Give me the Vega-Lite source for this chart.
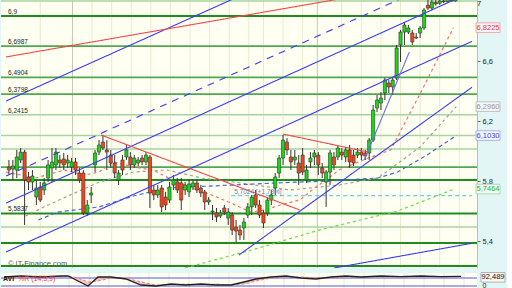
{
"$schema":"https://vega.github.io/schema/vega-lite/v6.json",
"padding":0,
"background":"#E3F6F6",
"config":{"view":{"stroke":null,"fill":"#FFFFF2"},"font":"Liberation Sans"},
"spacing":2,
"datasets":{
"candles":[
{"i":0,"o":5.893,"c":5.873,"h":5.94,"l":5.84},{"i":1,"o":5.88,"c":5.9,"h":5.94,"l":5.807},{"i":2,"o":5.873,"c":5.96,"h":6.007,"l":5.82},{"i":3,"o":5.94,"c":5.993,"h":6.02,"l":5.92},{"i":4,"o":5.993,"c":5.807,"h":6.007,"l":5.507},{"i":5,"o":5.827,"c":5.793,"h":5.86,"l":5.74},{"i":6,"o":5.793,"c":5.833,"h":5.873,"l":5.74},{"i":7,"o":5.693,"c":5.753,"h":5.807,"l":5.64},{"i":8,"o":5.76,"c":5.673,"h":5.793,"l":5.66},{"i":9,"o":5.74,"c":5.787,"h":5.82,"l":5.707},
{"i":10,"o":5.82,"c":5.907,"h":5.94,"l":5.793},{"i":11,"o":5.887,"c":5.927,"h":6.02,"l":5.793},{"i":12,"o":5.907,"c":5.993,"h":6.02,"l":5.873},{"i":13,"o":5.94,"c":5.92,"h":5.973,"l":5.887},{"i":14,"o":5.947,"c":5.907,"h":5.987,"l":5.873},{"i":15,"o":5.92,"c":5.94,"h":5.973,"l":5.887},{"i":16,"o":5.893,"c":5.927,"h":5.953,"l":5.86},{"i":17,"o":5.927,"c":5.873,"h":5.953,"l":5.84},{"i":18,"o":5.853,"c":5.807,"h":5.887,"l":5.787},{"i":19,"o":5.853,"c":5.587,"h":5.873,"l":5.573},
{"i":20,"o":5.587,"c":5.64,"h":5.673,"l":5.567},{"i":21,"o":5.707,"c":5.72,"h":5.76,"l":5.653},{"i":22,"o":5.907,"c":5.987,"h":6.007,"l":5.86},{"i":23,"o":5.993,"c":6.04,"h":6.073,"l":5.973},{"i":24,"o":6.06,"c":6.02,"h":6.107,"l":6.007},{"i":25,"o":6.007,"c":5.993,"h":6.073,"l":5.873},{"i":26,"o":5.973,"c":5.92,"h":6.007,"l":5.887},{"i":27,"o":5.92,"c":5.853,"h":5.973,"l":5.82},{"i":28,"o":5.807,"c":5.853,"h":5.873,"l":5.773},{"i":29,"o":5.94,"c":5.873,"h":5.973,"l":5.84},
{"i":30,"o":5.96,"c":6.007,"h":6.04,"l":5.94},{"i":31,"o":5.96,"c":5.907,"h":5.993,"l":5.873},{"i":32,"o":5.907,"c":5.953,"h":5.973,"l":5.887},{"i":33,"o":5.92,"c":5.94,"h":5.96,"l":5.9},{"i":34,"o":5.953,"c":5.927,"h":5.973,"l":5.907},{"i":35,"o":5.927,"c":5.973,"h":5.993,"l":5.907},{"i":36,"o":5.96,"c":5.72,"h":5.973,"l":5.62},{"i":37,"o":5.74,"c":5.707,"h":5.773,"l":5.673},{"i":38,"o":5.707,"c":5.74,"h":5.773,"l":5.687},{"i":39,"o":5.753,"c":5.627,"h":5.773,"l":5.593},
{"i":40,"o":5.693,"c":5.64,"h":5.727,"l":5.607},{"i":41,"o":5.673,"c":5.76,"h":5.793,"l":5.653},{"i":42,"o":5.773,"c":5.807,"h":5.84,"l":5.74},{"i":43,"o":5.793,"c":5.74,"h":5.82,"l":5.72},{"i":44,"o":5.787,"c":5.673,"h":5.82,"l":5.607},{"i":45,"o":5.74,"c":5.773,"h":5.793,"l":5.707},{"i":46,"o":5.727,"c":5.78,"h":5.807,"l":5.693},{"i":47,"o":5.76,"c":5.787,"h":5.807,"l":5.74},{"i":48,"o":5.787,"c":5.74,"h":5.807,"l":5.72},{"i":49,"o":5.753,"c":5.72,"h":5.773,"l":5.693},
{"i":50,"o":5.727,"c":5.66,"h":5.74,"l":5.607},{"i":51,"o":5.66,"c":5.673,"h":5.693,"l":5.64},{"i":52,"o":5.593,"c":5.6,"h":5.64,"l":5.54},{"i":53,"o":5.587,"c":5.56,"h":5.62,"l":5.527},{"i":54,"o":5.567,"c":5.587,"h":5.607,"l":5.553},{"i":55,"o":5.62,"c":5.593,"h":5.64,"l":5.573},{"i":56,"o":5.553,"c":5.593,"h":5.62,"l":5.507},{"i":57,"o":5.573,"c":5.473,"h":5.593,"l":5.44},{"i":58,"o":5.493,"c":5.467,"h":5.54,"l":5.393},{"i":59,"o":5.473,"c":5.44,"h":5.507,"l":5.407},
{"i":60,"o":5.487,"c":5.527,"h":5.553,"l":5.407},{"i":61,"o":5.573,"c":5.627,"h":5.653,"l":5.553},{"i":62,"o":5.627,"c":5.693,"h":5.707,"l":5.573},{"i":63,"o":5.707,"c":5.64,"h":5.74,"l":5.62},{"i":64,"o":5.64,"c":5.573,"h":5.673,"l":5.553},{"i":65,"o":5.587,"c":5.52,"h":5.607,"l":5.487},{"i":66,"o":5.587,"c":5.673,"h":5.693,"l":5.567},{"i":67,"o":5.673,"c":5.707,"h":5.74,"l":5.64},{"i":68,"o":5.753,"c":5.827,"h":5.853,"l":5.707},{"i":69,"o":5.853,"c":5.953,"h":5.973,"l":5.82},
{"i":70,"o":5.953,"c":6.073,"h":6.107,"l":5.907},{"i":71,"o":6.06,"c":6.007,"h":6.087,"l":5.973},{"i":72,"o":5.96,"c":5.927,"h":6.007,"l":5.873},{"i":73,"o":5.94,"c":5.96,"h":6.007,"l":5.907},{"i":74,"o":5.92,"c":5.853,"h":5.973,"l":5.773},{"i":75,"o":5.973,"c":5.86,"h":6.02,"l":5.84},{"i":76,"o":5.807,"c":5.873,"h":5.907,"l":5.787},{"i":77,"o":5.927,"c":5.953,"h":5.993,"l":5.887},{"i":78,"o":5.96,"c":5.987,"h":6.007,"l":5.907},{"i":79,"o":5.973,"c":5.907,"h":5.993,"l":5.84},
{"i":80,"o":5.887,"c":5.853,"h":5.92,"l":5.82},{"i":81,"o":5.793,"c":5.86,"h":5.873,"l":5.627},{"i":82,"o":5.86,"c":5.987,"h":6.007,"l":5.773},{"i":83,"o":5.96,"c":5.907,"h":5.993,"l":5.873},{"i":84,"o":5.96,"c":6.02,"h":6.04,"l":5.94},{"i":85,"o":5.993,"c":5.973,"h":6.02,"l":5.94},{"i":86,"o":5.96,"c":6.007,"h":6.027,"l":5.927},{"i":87,"o":6.007,"c":5.927,"h":6.04,"l":5.887},{"i":88,"o":5.973,"c":5.92,"h":6.007,"l":5.9},{"i":89,"o":5.973,"c":5.993,"h":6.02,"l":5.953},
{"i":90,"o":5.993,"c":5.973,"h":6.02,"l":5.94},{"i":91,"o":5.987,"c":5.967,"h":6.007,"l":5.94},{"i":92,"o":5.987,"c":6.073,"h":6.087,"l":5.94},{"i":93,"o":6.073,"c":6.273,"h":6.307,"l":6.06},{"i":94,"o":6.287,"c":6.34,"h":6.373,"l":6.26},{"i":95,"o":6.32,"c":6.353,"h":6.393,"l":6.273},{"i":96,"o":6.387,"c":6.473,"h":6.487,"l":6.34},{"i":97,"o":6.453,"c":6.427,"h":6.473,"l":6.387},{"i":98,"o":6.427,"c":6.473,"h":6.487,"l":6.373},{"i":99,"o":6.487,"c":6.687,"h":6.707,"l":6.473},
{"i":100,"o":6.707,"c":6.793,"h":6.807,"l":6.593},{"i":101,"o":6.793,"c":6.84,"h":6.86,"l":6.707},{"i":102,"o":6.793,"c":6.82,"h":6.84,"l":6.78},{"i":103,"o":6.787,"c":6.727,"h":6.807,"l":6.707},{"i":104,"o":6.76,"c":6.753,"h":6.787,"l":6.747},{"i":105,"o":6.787,"c":6.82,"h":6.833,"l":6.753},{"i":106,"o":6.82,"c":6.94,"h":6.953,"l":6.807},{"i":107,"o":6.973,"c":6.953,"h":7.007,"l":6.94},{"i":108,"o":6.953,"c":6.993,"h":7.04,"l":6.94},{"i":109,"o":6.99,"c":6.98,"h":7.03,"l":6.97},
{"i":110,"o":6.985,"c":7.0,"h":7.03,"l":6.975},{"i":111,"o":7.0,"c":6.995,"h":7.04,"l":6.985},{"i":112,"o":6.995,"c":7.01,"h":7.05,"l":6.99},{"i":113,"o":7.01,"c":7.0,"h":7.04,"l":6.995},{"i":114,"o":7.0,"c":7.02,"h":7.05,"l":6.995}
],
"levels":[
{"v":7.0,"k":"c"},{"v":6.9,"k":"a"},{"v":6.6987,"k":"b"},{"v":6.4904,"k":"b"},{"v":6.3798,"k":"b"},{"v":6.2415,"k":"c"},{"v":6.103,"k":"c"},{"v":6.013,"k":"c"},{"v":5.893,"k":"b"},{"v":5.807,"k":"a"},{"v":5.5837,"k":"a"},{"v":5.493,"k":"c"},{"v":5.387,"k":"a"},{"v":5.233,"k":"a"}
],
"grid":[
{"i":8,"k":"n"},{"i":16.25,"k":"d"},{"i":21.25,"k":"n"},{"i":26.25,"k":"n"},{"i":31.25,"k":"n"},{"i":36.25,"k":"n"},{"i":41.25,"k":"n"},{"i":46.25,"k":"n"},{"i":51.25,"k":"n"},{"i":56.25,"k":"n"},{"i":61.25,"k":"n"},{"i":65,"k":"n"},{"i":70,"k":"n"},{"i":75,"k":"n"},{"i":78.75,"k":"d"},{"i":85,"k":"n"},{"i":90,"k":"n"},{"i":95,"k":"n"},{"i":100,"k":"n"},{"i":105,"k":"n"},{"i":110,"k":"n"},{"i":115,"k":"n"}
],
"segs":[
{"g":"L1","i":-0.75,"v":6.333},{"g":"L1","i":60,"v":7.046},
{"g":"Ldash","i":-0.75,"v":5.833},{"g":"Ldash","i":105,"v":7.073},
{"g":"L2","i":-0.75,"v":5.653},{"g":"L2","i":118.25,"v":7.062},
{"g":"L3","i":-0.75,"v":5.327},{"g":"L3","i":118.25,"v":6.731},
{"g":"L4","i":58.75,"v":5.307},{"g":"L4","i":118.25,"v":6.425},
{"g":"L6","i":83,"v":5.22},{"g":"L6","i":118.25,"v":5.385},
{"g":"L7","i":90.75,"v":5.94},{"g":"L7","i":102.25,"v":6.66},
{"g":"R1","i":-0.75,"v":6.627},{"g":"R1","i":90,"v":7.039},
{"g":"R2","i":23.5,"v":6.107},{"g":"R2","i":74.25,"v":5.607},
{"g":"R3","i":70,"v":6.113},{"g":"R3","i":91.75,"v":5.993},
{"g":"maR","i":-0.75,"v":5.86},{"g":"maR","i":6.75,"v":5.82},{"g":"maR","i":14.25,"v":5.873},{"g":"maR","i":19.25,"v":5.84},{"g":"maR","i":23,"v":5.86},{"g":"maR","i":26.75,"v":5.927},{"g":"maR","i":31.75,"v":5.893},{"g":"maR","i":36.75,"v":5.873},{"g":"maR","i":41.75,"v":5.807},{"g":"maR","i":46.75,"v":5.753},{"g":"maR","i":51.75,"v":5.707},{"g":"maR","i":56.75,"v":5.653},{"g":"maR","i":61.75,"v":5.593},{"g":"maR","i":65.5,"v":5.607},{"g":"maR","i":69.25,"v":5.64},{"g":"maR","i":74.25,"v":5.673},{"g":"maR","i":78,"v":5.753},{"g":"maR","i":81,"v":5.807},{"g":"maR","i":84.25,"v":5.873},{"g":"maR","i":91.75,"v":5.953},{"g":"maR","i":97.5,"v":6.007},{"g":"maR","i":105.5,"v":6.407},{"g":"maR","i":113.5,"v":6.8225},
{"g":"maG","i":4.25,"v":5.567},{"g":"maG","i":10,"v":5.64},{"g":"maG","i":22.5,"v":5.787},{"g":"maG","i":31.75,"v":5.86},{"g":"maG","i":40.5,"v":5.873},{"g":"maG","i":49.25,"v":5.82},{"g":"maG","i":59.25,"v":5.787},{"g":"maG","i":71.75,"v":5.74},{"g":"maG","i":84.25,"v":5.773},{"g":"maG","i":94.25,"v":5.82},{"g":"maG","i":105,"v":6.027},{"g":"maG","i":114.25,"v":6.296},
{"g":"maB","i":7.5,"v":5.54},{"g":"maB","i":12.5,"v":5.593},{"g":"maB","i":23,"v":5.627},{"g":"maB","i":31.75,"v":5.7},{"g":"maB","i":40.5,"v":5.753},{"g":"maB","i":56.75,"v":5.773},{"g":"maB","i":68.5,"v":5.787},{"g":"maB","i":81.75,"v":5.8},{"g":"maB","i":94.25,"v":5.82},{"g":"maB","i":99.25,"v":5.86},{"g":"maB","i":106.75,"v":5.973},{"g":"maB","i":114.25,"v":6.103},
{"g":"maGr","i":45,"v":5.22},{"g":"maGr","i":63,"v":5.347},{"g":"maGr","i":79.25,"v":5.473},{"g":"maGr","i":99.25,"v":5.6},{"g":"maGr","i":113.75,"v":5.7464},
{"g":"cy","i":56.75,"v":5.7024},{"g":"cy","i":118.25,"v":5.7024}
],
"labelsL":[
{"v":6.9,"t":"6,9"},{"v":6.6987,"t":"6,6987"},{"v":6.4904,"t":"6,4904"},{"v":6.3798,"t":"6,3798"},{"v":6.2415,"t":"6,2415"},{"v":5.5837,"t":"5,5837"}
],
"boxes":[
{"v":6.8225,"t":"6,8225","k":"r"},{"v":6.296,"t":"6,2960","k":"g"},{"v":6.103,"t":"6,1030","k":"b"},{"v":5.7464,"t":"5,7464","k":"n"}
],
"ind":[
{"i":0,"k":87.5,"p":80},{"i":4.25,"k":95,"p":87.5},{"i":9.25,"k":87.5,"p":95},{"i":14.25,"k":95,"p":87.5},{"i":16,"k":95,"p":95},{"i":18.5,"k":57.5,"p":80},{"i":21,"k":20,"p":50},{"i":23.5,"k":87.5,"p":57.5},{"i":26.75,"k":87.5,"p":80},{"i":30.5,"k":72.5,"p":80},{"i":34.25,"k":27.5,"p":50},{"i":38,"k":20,"p":27.5},{"i":41.75,"k":35,"p":27.5},{"i":45.5,"k":27.5,"p":35},{"i":49.25,"k":35,"p":27.5},{"i":53,"k":27.5,"p":35},{"i":56.75,"k":27.5,"p":27.5},{"i":60,"k":50,"p":35},{"i":63,"k":72.5,"p":57.5},{"i":66.75,"k":87.5,"p":80},{"i":70.5,"k":95,"p":87.5},{"i":74.25,"k":80,"p":87.5},{"i":78,"k":72.5,"p":80},{"i":81.75,"k":87.5,"p":80},{"i":85.5,"k":95,"p":87.5},{"i":89.25,"k":87.5,"p":87.5},{"i":94.25,"k":95,"p":87.5},{"i":99.25,"k":91,"p":87.5},{"i":104.25,"k":95,"p":91},{"i":109.25,"k":91,"p":91},{"i":114.25,"k":92.489,"p":91}
]
},
"resolve":{"scale":{"x":"independent","y":"independent"}},
"vconcat":[
{
"width":476,"height":268,
"resolve":{"scale":{"color":"independent","strokeWidth":"independent","strokeDash":"independent","stroke":"independent","fill":"independent"}},
"layer":[
{"data":{"name":"grid"},"mark":{"type":"rule","clip":true,"strokeWidth":1},
 "encoding":{"x":{"field":"i","type":"quantitative","scale":{"domain":[-0.75,118.25],"nice":false,"zero":false},"axis":null},
 "color":{"field":"k","type":"nominal","scale":{"domain":["n","d"],"range":["#ECE8D2","#C9C5B3"]},"legend":null}}},
{"data":{"name":"levels"},"mark":{"type":"rule","clip":true},
 "encoding":{"y":{"field":"v","type":"quantitative","scale":{"domain":[5.22,7.0067],"nice":false,"zero":false},
   "axis":{"orient":"right","title":null,"values":[5.4,5.6,5.8,6,6.2,6.4,6.6,7],"labelExpr":"datum.value > 6.9 ? '' : replace(format(datum.value,'.1~f'),'.',',')","grid":false,"domain":true,"domainColor":"#BBBBBB","ticks":true,"tickSize":3,"tickColor":"#666666","labelPadding":2,"labelFontSize":7.5,"labelColor":"#222222","labelOverlap":false}},
 "color":{"field":"k","type":"nominal","scale":{"domain":["a","b","c"],"range":["#1E8C1E","#4FA84F","#A6D69E"]},"legend":null},
 "strokeWidth":{"field":"k","type":"ordinal","scale":{"domain":["a","b","c"],"range":[2,1.5,2.2]},"legend":null}}},
{"data":{"name":"segs"},"transform":[{"filter":"indexof(['maR','maG','maB','maGr','cy'], datum.g) >= 0"}],"mark":{"type":"line","clip":true},
 "encoding":{"x":{"field":"i","type":"quantitative"},"y":{"field":"v","type":"quantitative"},
 "color":{"field":"g","type":"nominal","scale":{"domain":["maR","maG","maB","maGr","cy"],"range":["#F07070","#A0A0A0","#4466DD","#66DD44","#66CCFF"]},"legend":null},
 "strokeDash":{"field":"g","type":"nominal","scale":{"domain":["maR","maG","maB","maGr","cy"],"range":[[3,3],[3,3],[4,3],[3,3],[4,3]]},"legend":null},
 "strokeWidth":{"field":"g","type":"ordinal","scale":{"domain":["maR","maG","maB","maGr","cy"],"range":[1.2,1.2,1.2,1.6,1.2]},"legend":null}}},
{"data":{"name":"candles"},"mark":{"type":"rule","color":"#333333","strokeWidth":1,"clip":true},
 "encoding":{"x":{"field":"i","type":"quantitative"},"y":{"field":"l","type":"quantitative"},"y2":{"field":"h"}}},
{"data":{"name":"candles"},"mark":{"type":"bar","width":3.2,"stroke":"#333333","strokeWidth":0.6,"clip":true},
 "encoding":{"x":{"field":"i","type":"quantitative"},"y":{"field":"o","type":"quantitative"},"y2":{"field":"c"},
 "fill":{"condition":{"test":"datum.c >= datum.o","value":"#18D818"},"value":"#F2461C"}}},
{"data":{"name":"segs"},"transform":[{"filter":"indexof(['maR','maG','maB','maGr','cy'], datum.g) < 0"}],"mark":{"type":"line","clip":true,"strokeWidth":1.1},
 "encoding":{"x":{"field":"i","type":"quantitative"},"y":{"field":"v","type":"quantitative"},
 "stroke":{"field":"g","type":"nominal","scale":{"domain":["L1","Ldash","L2","L3","L4","L6","L7","R1","R2","R3"],"range":["#3B3BF0","#3B3BF0","#3B3BF0","#3B3BF0","#3B3BF0","#3B3BF0","#6B6BF5","#F04848","#F04848","#F04848"]},"legend":null},
 "strokeDash":{"field":"g","type":"nominal","scale":{"domain":["L1","Ldash","L2","L3","L4","L6","L7","R1","R2","R3"],"range":[[1,0],[7,6],[1,0],[1,0],[1,0],[1,0],[1,0],[1,0],[1,0],[1,0]]},"legend":null}}},
{"data":{"name":"labelsL"},"mark":{"type":"text","align":"left","baseline":"bottom","dx":2,"dy":-1,"fontSize":6.5,"color":"#222222"},
 "encoding":{"x":{"datum":-0.75,"type":"quantitative"},"y":{"field":"v","type":"quantitative"},"text":{"field":"t"}}},
{"data":{"values":[{"v":5.7024,"t":"5,7024 [+1,78%]"}]},"mark":{"type":"text","align":"left","baseline":"bottom","dx":1,"dy":-1,"fontSize":6.5,"color":"#7080A8"},
 "encoding":{"x":{"datum":57.25,"type":"quantitative"},"y":{"field":"v","type":"quantitative"},"text":{"field":"t"}}},
{"data":{"values":[{"v":5.247,"t":"© IT-Finance.com"}]},"mark":{"type":"text","align":"left","baseline":"middle","dx":2,"fontSize":7.5,"color":"#555555"},
 "encoding":{"x":{"datum":-0.75,"type":"quantitative"},"y":{"field":"v","type":"quantitative"},"text":{"field":"t"}}},
{"data":{"values":[{"v":7,"t":"7"}]},"mark":{"type":"text","align":"left","baseline":"top","dx":5,"dy":-1,"fontSize":7.5,"color":"#222222","clip":false},
 "encoding":{"x":{"datum":118.25,"type":"quantitative"},"y":{"field":"v","type":"quantitative"},"text":{"field":"t"}}},
{"data":{"name":"boxes"},"mark":{"type":"point","shape":"M-1,-0.4H1V0.4H-1Z","size":576,"filled":true,"fill":"#F7F7F7","strokeWidth":1,"opacity":1,"xOffset":16,"clip":false},
 "encoding":{"x":{"datum":118.25,"type":"quantitative"},"y":{"field":"v","type":"quantitative"},
 "stroke":{"field":"k","type":"nominal","scale":{"domain":["r","g","b","n"],"range":["#F0A8A8","#C0C0C0","#A8B4F0","#A8DCA8"]},"legend":null}}},
{"data":{"name":"boxes"},"mark":{"type":"text","dx":16,"align":"center","baseline":"middle","fontSize":7.5,"clip":false},
 "encoding":{"x":{"datum":118.25,"type":"quantitative"},"y":{"field":"v","type":"quantitative"},"text":{"field":"t"},
 "fill":{"field":"k","type":"nominal","scale":{"domain":["r","g","b","n"],"range":["#E83030","#909090","#3344EE","#22BB22"]},"legend":null}}}
]
},
{
"width":476,"height":18,
"layer":[
{"data":{"name":"grid"},"mark":{"type":"rule","strokeWidth":1,"color":"#ECE8D2"},
 "encoding":{"x":{"field":"i","type":"quantitative","scale":{"domain":[-0.75,118.25],"nice":false,"zero":false},"axis":null}}},
{"data":{"values":[{"v":80},{"v":20}]},"mark":{"type":"rule","color":"#5555EE","strokeWidth":1},
 "encoding":{"y":{"field":"v","type":"quantitative","scale":{"domain":[-17.5,117.5],"nice":false,"zero":false},
  "axis":{"orient":"right","title":null,"values":[0],"grid":false,"domain":false,"ticks":false,"labelPadding":5,"labelFontSize":7,"labelColor":"#222222","labelBaseline":"bottom","labelOffset":0,"labelBound":false}}}},
{"data":{"name":"ind"},"mark":{"type":"area","color":"#F4B0B0","opacity":0.7,"clip":true},
 "encoding":{"x":{"field":"i","type":"quantitative"},"y":{"field":"k","type":"quantitative"},"y2":{"field":"p"}}},
{"data":{"name":"ind"},"mark":{"type":"line","color":"#F08080","strokeDash":[3,2],"strokeWidth":1,"clip":true},
 "encoding":{"x":{"field":"i","type":"quantitative"},"y":{"field":"p","type":"quantitative"}}},
{"data":{"name":"ind"},"mark":{"type":"line","color":"#222222","strokeWidth":1.3,"clip":true},
 "encoding":{"x":{"field":"i","type":"quantitative"},"y":{"field":"k","type":"quantitative"}}},
{"data":{"values":[{"v":72.5,"t":"AVI"}]},"mark":{"type":"text","align":"left","baseline":"middle","dx":2,"fontSize":7,"fontWeight":"bold","color":"#222222"},
 "encoding":{"x":{"datum":-0.75,"type":"quantitative"},"y":{"field":"v","type":"quantitative"},"text":{"field":"t"}}},
{"data":{"values":[{"v":72.5,"t":"%R (14,3,9)"}]},"mark":{"type":"text","align":"left","baseline":"middle","dx":17,"fontSize":7,"color":"#E84040"},
 "encoding":{"x":{"datum":-0.75,"type":"quantitative"},"y":{"field":"v","type":"quantitative"},"text":{"field":"t"}}},
{"data":{"values":[{"v":92.489,"t":"92,489"}]},"mark":{"type":"point","shape":"M-1,-0.4H1V0.4H-1Z","size":576,"filled":true,"fill":"#F7F7F7","stroke":"#B0B0B0","strokeWidth":1,"opacity":1,"xOffset":16,"yOffset":1,"clip":false},
 "encoding":{"x":{"datum":118.25,"type":"quantitative"},"y":{"field":"v","type":"quantitative"}}},
{"data":{"values":[{"v":92.489,"t":"92,489"}]},"mark":{"type":"text","dx":16,"dy":1,"align":"center","baseline":"middle","fontSize":7.5,"color":"#111111","clip":false},
 "encoding":{"x":{"datum":118.25,"type":"quantitative"},"y":{"field":"v","type":"quantitative"},"text":{"field":"t"}}}
]
}
]
}
